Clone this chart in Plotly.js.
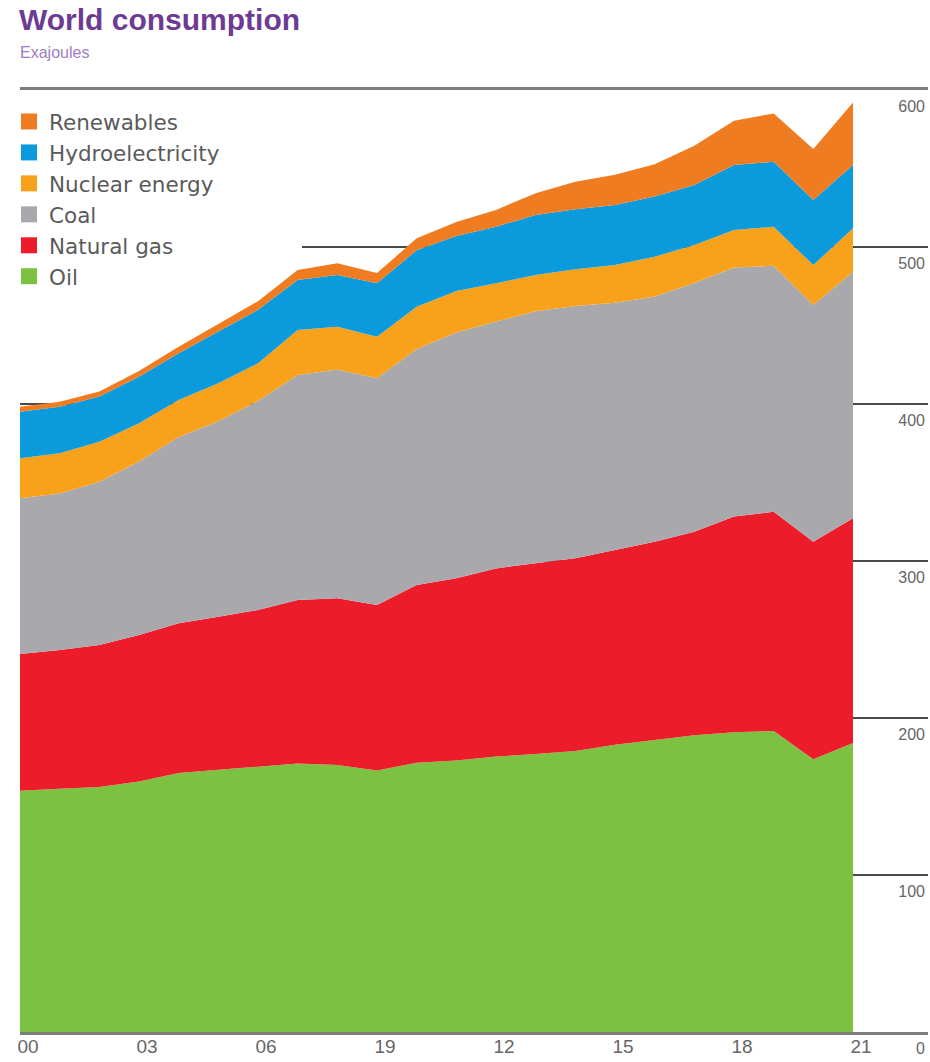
<!DOCTYPE html>
<html>
<head>
<meta charset="utf-8">
<script src="https://cdn.plot.ly/plotly-3.0.1.min.js"></script>
<style>
  html, body { margin: 0; padding: 0; background: #ffffff; }
  #chart { width: 930px; height: 1062px; }
</style>
</head>
<body>
<div id="chart"></div>
<script>
// ---- data (Exajoules) ----
const years = [2000, 2001, 2002, 2003, 2004, 2005, 2006, 2007, 2008, 2009, 2010,
               2011, 2012, 2013, 2014, 2015, 2016, 2017, 2018, 2019, 2020, 2021];
const oil = [153.7, 155, 156, 159.5, 165, 167, 169, 171, 170, 166.5, 171.5,
             173, 175.4, 177, 179, 183, 186, 189, 191, 191.7, 173.7, 184];
const naturalGas = [87.1, 88.3, 90.5, 93.4, 95.3, 97.5, 99.8, 104.2, 106.2, 105.5, 113.2,
                    116, 119.9, 121.5, 122.7, 124, 126.3, 129.7, 137.3, 139.7, 138.6, 143.2];
const coal = [99.2, 99.7, 104, 110.4, 118.7, 124.5, 133.2, 143.3, 145.8, 144.4, 150.3,
              156.5, 157.2, 160.5, 160.8, 157.5, 156.1, 158.3, 158.7, 156.6, 150.7, 157.1];
const nuclear = [25.4, 25.6, 25.5, 24.4, 23.5, 24.2, 23.9, 28.6, 27.2, 26.4, 27,
                 26.5, 24.4, 23.2, 23.4, 24, 25.4, 24.3, 23.8, 24.9, 25.5, 27.6];
const hydro = [29.6, 29.7, 28.7, 29.7, 29.8, 32.9, 34.1, 31.9, 33, 34.1, 36,
               35, 36, 38.2, 38.1, 38.3, 38.3, 38.2, 41.4, 41.4, 41.4, 40.3];
const renewables = [3.3, 3.2, 3.3, 3.6, 4.2, 4.9, 5.5, 6.4, 7.4, 6.5, 7.5,
                    9, 10.7, 13.9, 17.6, 19.2, 20.6, 25, 28.2, 30.8, 32.5, 39.9];

const seriesNames = ["Oil", "Natural gas", "Coal", "Nuclear energy", "Hydroelectricity", "Renewables"];
const seriesColors = ["#7dc142", "#ed1c2a", "#a9a9ad", "#f8a11b", "#0b9bdc", "#f07c22"];
const tickYears = [2000, 2003, 2006, 2009, 2012, 2015, 2018, 2021];
const tickLabels = ["00", "03", "06", "19", "12", "15", "18", "21"];
const yTicks = [0, 100, 200, 300, 400, 500, 600];

const seriesValues = [oil, naturalGas, coal, nuclear, hydro, renewables];

const traces = [];
seriesValues.forEach((vals, i) => {
  traces.push({
    type: "scatter",
    x: years,
    y: vals,
    name: seriesNames[i],
    stackgroup: "one",
    mode: "none",
    fillcolor: seriesColors[i],
    line: { width: 0 },
    showlegend: false,
    hoverinfo: "skip"
  });
});
// legend entries (square swatches), top to bottom
for (let i = seriesNames.length - 1; i >= 0; i--) {
  traces.push({
    type: "scatter",
    x: [null],
    y: [null],
    mode: "markers",
    name: seriesNames[i],
    marker: { symbol: "square", size: 18, color: seriesColors[i] },
    showlegend: true,
    hoverinfo: "skip"
  });
}

const layout = {
  width: 930,
  height: 1062,
  margin: { l: 20, r: 2, t: 90, b: 30 },
  paper_bgcolor: "#ffffff",
  plot_bgcolor: "#ffffff",
  font: { family: "Liberation Sans, Arial, sans-serif", color: "#555555" },
  title: {
    text: "<b>World consumption</b>",
    font: { family: "Liberation Sans, Arial, sans-serif", size: 30, color: "#6d3b93" },
    x: 19 / 930,
    xanchor: "left",
    xref: "container",
    y: 1 - 19 / 1062,
    yanchor: "middle",
    yref: "container"
  },
  annotations: [{
    text: "Exajoules",
    xref: "paper", yref: "paper",
    x: 0, y: 1 + (90 - 53) / 942,
    xshift: -2,
    xanchor: "left", yanchor: "middle",
    showarrow: false,
    font: { family: "Liberation Sans, Arial, sans-serif", size: 16, color: "#a07cc0" }
  }],
  // white strip behind the legend that hides the gridline there (no data in this strip)
  shapes: [{
    type: "rect",
    layer: "above",
    xref: "paper", yref: "paper",
    x0: -0.01, x1: (302 - 20) / 908,
    y0: (1032 - 262) / 942, y1: (1032 - 232) / 942,
    fillcolor: "#ffffff",
    line: { width: 0 }
  }],
  showlegend: true,
  legend: {
    x: -11 / 908, y: 1 - 11 / 942,
    xanchor: "left", yanchor: "top",
    traceorder: "normal",
    bgcolor: "rgba(0,0,0,0)",
    font: { family: "DejaVu Sans, Liberation Sans, sans-serif", size: 21.5, color: "#5a5a5a" },
    itemwidth: 30
  },
  xaxis: {
    range: [2000, 2000 + (928 - 20) / ((853 - 20) / 21)],
    tickmode: "array",
    tickvals: tickYears,
    ticktext: tickLabels,
    showgrid: false,
    zeroline: false,
    showline: true,
    linecolor: "rgba(70,70,70,0.7)",
    linewidth: 3,
    mirror: true,
    ticks: "",
    ticklabelstandoff: -5,
    ticklabelshift: 8,
    tickfont: { family: "Liberation Sans Narrow, Arial Narrow, Liberation Sans, sans-serif", size: 19, color: "#666666" },
    fixedrange: true
  },
  yaxis: {
    range: [0, 600],
    side: "right",
    tickmode: "array",
    tickvals: yTicks,
    ticktext: yTicks.map(String),
    ticklabelposition: "inside",
    ticklabelshift: 16,
    ticklabeloverflow: "allow",
    showgrid: true,
    gridcolor: "#4a4a4a",
    gridwidth: 2,
    zeroline: false,
    showline: false,
    ticks: "",
    tickfont: { family: "Liberation Sans, Arial, sans-serif", size: 16, color: "#666666" },
    fixedrange: true
  },
  hovermode: false
};

Plotly.newPlot("chart", traces, layout, { displayModeBar: false, staticPlot: true });
</script>
</body>
</html>
